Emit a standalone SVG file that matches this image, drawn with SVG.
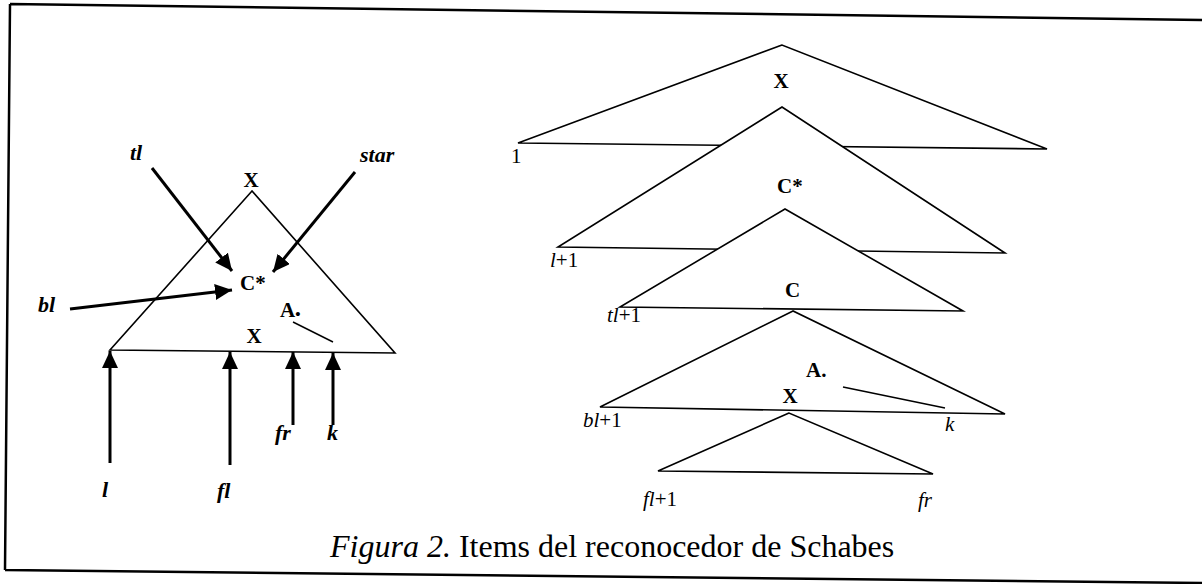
<svg xmlns="http://www.w3.org/2000/svg" width="1202" height="584" viewBox="0 0 1202 584">
<style>
.tri{fill:#fff;stroke:#000;stroke-width:1.6;stroke-linejoin:miter}
.ln{fill:none;stroke:#000;stroke-width:1.5}
.arr{fill:none;stroke:#000;stroke-width:3;marker-end:url(#ah)}
.frame{fill:none;stroke:#000;stroke-width:2.5}
.b{font-family:"Liberation Serif",serif;font-weight:bold;font-size:21px;fill:#000}
.bi{font-family:"Liberation Serif",serif;font-weight:bold;font-style:italic;font-size:22px;fill:#000}
.r{font-family:"Liberation Serif",serif;font-size:21px;fill:#000}
.i{font-style:italic}
.cap{font-family:"Liberation Serif",serif;font-size:32px;fill:#000}
</style>
<defs>
<marker id="ah" markerUnits="userSpaceOnUse" markerWidth="18" markerHeight="16" refX="17" refY="8" orient="auto">
<path d="M0,0 L17,8 L0,16 z" fill="#000"/>
</marker>
</defs>
<rect width="1202" height="584" fill="#fff"/>
<g id="frame">
<path class="frame" d="M10,4 L1202,20 M10,4 L5,570 M5,570 L1202,583"/>
</g>
<g id="left-item">
<path class="tri" style="fill:none" d="M252,191 L110,350 L395,353 Z"/>
<text class="b" x="251" y="187" text-anchor="middle">X</text>
<text class="b" x="240" y="290">C*</text>
<text class="b" x="280" y="317">A<tspan dy="2" font-size="15">•</tspan></text>
<text class="b" x="254" y="343" text-anchor="middle">X</text>
<path class="ln" d="M293,322 L333,342"/>
</g>
<g id="left-labels">
<text class="bi" x="130" y="160">tl</text>
<text class="bi" x="360" y="162">star</text>
<text class="bi" x="38" y="312">bl</text>
<text class="bi" x="102" y="497">l</text>
<text class="bi" x="217" y="498">fl</text>
<text class="bi" x="275" y="440">fr</text>
<text class="bi" x="327" y="440">k</text>
</g>
<g id="connectors">
<line class="arr" x1="152" y1="168" x2="232" y2="271"/>
<line class="arr" x1="355" y1="172" x2="273" y2="272"/>
<line class="arr" x1="70" y1="309" x2="232" y2="290"/>
<line class="arr" x1="110" y1="463" x2="110" y2="351"/>
<line class="arr" x1="230" y1="465" x2="230" y2="352"/>
<line class="arr" x1="293" y1="425" x2="293" y2="352"/>
<line class="arr" x1="333" y1="425" x2="333" y2="353"/>
</g>
<g id="tri-X">
<path class="tri" d="M782,45 L518,143 L1047,149 Z"/>
<text class="b" x="781" y="88" text-anchor="middle">X</text>
<text class="r" x="511" y="163">1</text>
</g>
<g id="tri-Cstar">
<path class="tri" d="M782,107 L558,247 L1005,253 Z"/>
<text class="b" x="777" y="193">C*</text>
<text class="r" x="550" y="267"><tspan class="i">l</tspan>+1</text>
</g>
<g id="tri-C">
<path class="tri" d="M785,209 L620,307 L963,311 Z"/>
<text class="b" x="785" y="297">C</text>
<text class="r" x="607" y="322"><tspan class="i">tl</tspan>+1</text>
</g>
<g id="tri-A">
<path class="tri" d="M793,311 L600,407 L1005,414 Z"/>
<text class="b" x="806" y="377">A.</text>
<text class="b" x="790" y="403" text-anchor="middle">X</text>
<path class="ln" d="M843,387 L945,408"/>
<text class="r" x="583" y="427"><tspan class="i">bl</tspan>+1</text>
<text class="r i" x="945" y="431">k</text>
</g>
<g id="tri-Xbottom">
<path class="tri" d="M789,413 L658,471 L933,474 Z"/>
<text class="r" x="643" y="506"><tspan class="i">fl</tspan>+1</text>
<text class="r i" x="918" y="507">fr</text>
</g>
<g id="caption">
<text class="cap" x="330" y="557"><tspan class="i">Figura 2.</tspan> Items del reconocedor de Schabes</text>
</g>
</svg>
